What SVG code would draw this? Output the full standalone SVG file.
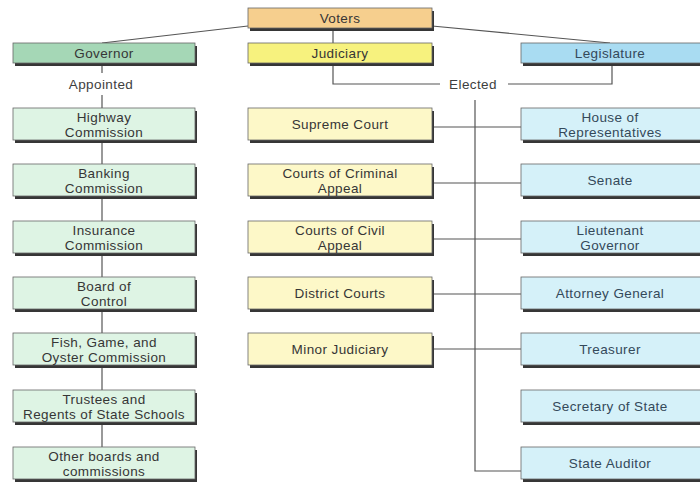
<svg xmlns="http://www.w3.org/2000/svg" width="700" height="485" viewBox="0 0 700 485">
<defs>
<style>
.sh{fill:#363636}
.bx{stroke:#666;stroke-width:0.8}
.vot{fill:#f6cf8e}
.jud{fill:#f7f27e}
.gov{fill:#a5d7b6}
.leg{fill:#a9dcf2}
.g{fill:#def4e4}
.y{fill:#fdf8c8}
.b{fill:#d5f1f9}
text{font-family:"Liberation Sans",Arial,sans-serif;font-size:13.5px;text-anchor:middle;letter-spacing:0.4px}
.t{fill:#363636}
.tb{fill:#34495a}
.lbl{fill:#3e3e3e}
.ln{stroke:#555;stroke-width:1.2;fill:none}
</style>
</defs>
<rect width="700" height="485" fill="#ffffff"/>

<g id="connectors">
<line class="ln" x1="102" y1="43" x2="248" y2="26"/>
<line class="ln" x1="432" y1="26" x2="610" y2="43"/>
<line class="ln" x1="333" y1="28" x2="333" y2="43"/>
<polyline class="ln" points="333,62 333,84 440,84"/>
<polyline class="ln" points="508,84 612,84 612,62"/>
<line class="ln" x1="102" y1="62" x2="102" y2="73"/>
<line class="ln" x1="102" y1="95" x2="102" y2="108"/>
<line class="ln" x1="102" y1="143" x2="102" y2="164"/>
<line class="ln" x1="102" y1="199" x2="102" y2="221"/>
<line class="ln" x1="102" y1="256" x2="102" y2="277"/>
<line class="ln" x1="102" y1="312" x2="102" y2="333"/>
<line class="ln" x1="102" y1="368" x2="102" y2="390"/>
<line class="ln" x1="102" y1="425" x2="102" y2="447"/>
<polyline class="ln" points="475,100 475,471 521,471"/>
<line class="ln" x1="432" y1="127" x2="521" y2="127"/>
<line class="ln" x1="432" y1="183" x2="521" y2="183"/>
<line class="ln" x1="432" y1="239" x2="521" y2="239"/>
<line class="ln" x1="432" y1="294" x2="521" y2="294"/>
<line class="ln" x1="432" y1="349" x2="521" y2="349"/>
</g>

<text class="lbl" x="101" y="89">Appointed</text>
<text class="lbl" x="473" y="89">Elected</text>

<g id="voters"><rect class="sh" x="250" y="11" width="184" height="20"/><rect class="bx vot" x="248" y="8" width="184" height="20"/><text class="t" x="340" y="23">Voters</text></g>
<g id="governor"><rect class="sh" x="15" y="46" width="182" height="20"/><rect class="bx gov" x="13" y="43" width="182" height="20"/><text class="t" x="104" y="58">Governor</text></g>
<g id="judiciary"><rect class="sh" x="250" y="46" width="184" height="20"/><rect class="bx jud" x="248" y="43" width="184" height="20"/><text class="t" x="340" y="58">Judiciary</text></g>
<g id="legislature"><rect class="sh" x="523" y="46" width="180" height="20"/><rect class="bx leg" x="521" y="43" width="180" height="20"/><text class="tb" x="610" y="58">Legislature</text></g>

<g id="highway"><rect class="sh" x="15" y="111" width="182" height="32"/><rect class="bx g" x="13" y="108" width="182" height="32"/><text class="t" x="104" y="122">Highway</text><text class="t" x="104" y="137">Commission</text></g>
<g id="banking"><rect class="sh" x="15" y="167" width="182" height="32"/><rect class="bx g" x="13" y="164" width="182" height="32"/><text class="t" x="104" y="178">Banking</text><text class="t" x="104" y="193">Commission</text></g>
<g id="insurance"><rect class="sh" x="15" y="224" width="182" height="32"/><rect class="bx g" x="13" y="221" width="182" height="32"/><text class="t" x="104" y="235">Insurance</text><text class="t" x="104" y="250">Commission</text></g>
<g id="board"><rect class="sh" x="15" y="280" width="182" height="32"/><rect class="bx g" x="13" y="277" width="182" height="32"/><text class="t" x="104" y="291">Board of</text><text class="t" x="104" y="306">Control</text></g>
<g id="fish"><rect class="sh" x="15" y="336" width="182" height="32"/><rect class="bx g" x="13" y="333" width="182" height="32"/><text class="t" x="104" y="347">Fish, Game, and</text><text class="t" x="104" y="362">Oyster Commission</text></g>
<g id="trustees"><rect class="sh" x="15" y="393" width="182" height="32"/><rect class="bx g" x="13" y="390" width="182" height="32"/><text class="t" x="104" y="404">Trustees and</text><text class="t" x="104" y="419">Regents of State Schools</text></g>
<g id="other"><rect class="sh" x="15" y="450" width="182" height="32"/><rect class="bx g" x="13" y="447" width="182" height="32"/><text class="t" x="104" y="461">Other boards and</text><text class="t" x="104" y="476">commissions</text></g>

<g id="supreme"><rect class="sh" x="250" y="111" width="184" height="32"/><rect class="bx y" x="248" y="108" width="184" height="32"/><text class="t" x="340" y="129">Supreme Court</text></g>
<g id="criminal"><rect class="sh" x="250" y="167" width="184" height="32"/><rect class="bx y" x="248" y="164" width="184" height="32"/><text class="t" x="340" y="178">Courts of Criminal</text><text class="t" x="340" y="193">Appeal</text></g>
<g id="civil"><rect class="sh" x="250" y="224" width="184" height="32"/><rect class="bx y" x="248" y="221" width="184" height="32"/><text class="t" x="340" y="235">Courts of Civil</text><text class="t" x="340" y="250">Appeal</text></g>
<g id="district"><rect class="sh" x="250" y="280" width="184" height="32"/><rect class="bx y" x="248" y="277" width="184" height="32"/><text class="t" x="340" y="298">District Courts</text></g>
<g id="minor"><rect class="sh" x="250" y="336" width="184" height="32"/><rect class="bx y" x="248" y="333" width="184" height="32"/><text class="t" x="340" y="354">Minor Judiciary</text></g>

<g id="house"><rect class="sh" x="523" y="111" width="180" height="32"/><rect class="bx b" x="521" y="108" width="180" height="32"/><text class="tb" x="610" y="122">House of</text><text class="tb" x="610" y="137">Representatives</text></g>
<g id="senate"><rect class="sh" x="523" y="167" width="180" height="32"/><rect class="bx b" x="521" y="164" width="180" height="32"/><text class="tb" x="610" y="185">Senate</text></g>
<g id="ltgov"><rect class="sh" x="523" y="224" width="180" height="32"/><rect class="bx b" x="521" y="221" width="180" height="32"/><text class="tb" x="610" y="235">Lieutenant</text><text class="tb" x="610" y="250">Governor</text></g>
<g id="attorney"><rect class="sh" x="523" y="280" width="180" height="32"/><rect class="bx b" x="521" y="277" width="180" height="32"/><text class="tb" x="610" y="298">Attorney General</text></g>
<g id="treasurer"><rect class="sh" x="523" y="336" width="180" height="32"/><rect class="bx b" x="521" y="333" width="180" height="32"/><text class="tb" x="610" y="354">Treasurer</text></g>
<g id="secretary"><rect class="sh" x="523" y="393" width="180" height="32"/><rect class="bx b" x="521" y="390" width="180" height="32"/><text class="tb" x="610" y="411">Secretary of State</text></g>
<g id="auditor"><rect class="sh" x="523" y="450" width="180" height="32"/><rect class="bx b" x="521" y="447" width="180" height="32"/><text class="tb" x="610" y="468">State Auditor</text></g>
</svg>
